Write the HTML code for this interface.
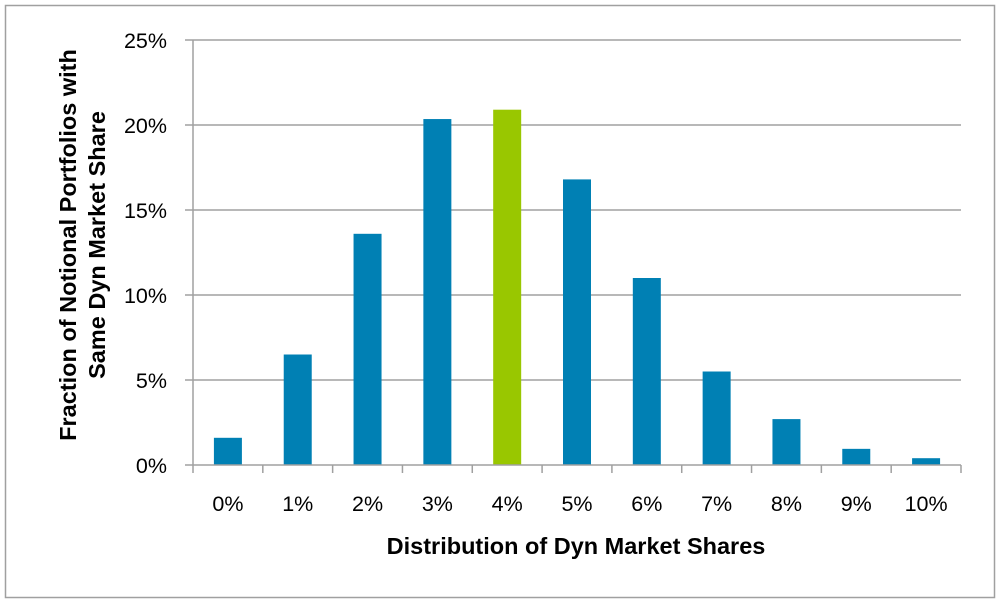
<!DOCTYPE html>
<html><head><meta charset="utf-8"><style>
html,body{margin:0;padding:0;background:#fff;width:1000px;height:603px;overflow:hidden}
svg{display:block}
text{font-family:"Liberation Sans",sans-serif;fill:#000}
</style></head><body>
<svg id="chart" width="1000" height="603">
<rect x="5.5" y="5.5" width="989" height="592" fill="#fff" stroke="#a0a0a0" stroke-width="1.5"/>
<g id="grid"></g><g id="bars"></g><g id="axes"></g>
<text x="576" y="554" text-anchor="middle" font-size="23.5" font-weight="bold">Distribution of Dyn Market Shares</text>
<g transform="translate(0,245) rotate(-90)">
<text x="0" y="76" text-anchor="middle" font-size="23.5" font-weight="bold">Fraction of Notional Portfolios with</text>
<text x="0" y="105" text-anchor="middle" font-size="23.5" font-weight="bold">Same Dyn Market Share</text>
</g>
</svg>
<script>
const categories=["0%","1%","2%","3%","4%","5%","6%","7%","8%","9%","10%"];
const values=[1.6,6.5,13.6,20.35,20.9,16.8,11.0,5.5,2.7,0.95,0.4];
const highlight=[false,false,false,false,true,false,false,false,false,false,false];
const yTicks=[0,5,10,15,20,25];
const yTickLabels=["0%","5%","10%","15%","20%","25%"];
const NS="http://www.w3.org/2000/svg";
const X0=193,X1=961,Y0=465,Y1=40,YMAX=25;
const band=(X1-X0)/categories.length;
const y=v=>Y0-(v/YMAX)*(Y0-Y1);
const x=i=>X0+band*i+band/2;
function mk(t,a,p){const e=document.createElementNS(NS,t);for(const k in a)e.setAttribute(k,a[k]);p.appendChild(e);return e;}
const grid=document.getElementById('grid'),bars=document.getElementById('bars'),axes=document.getElementById('axes');
yTicks.forEach((t,i)=>{
  if(t>0){const g=mk('line',{x1:X0,x2:X1,y1:y(t),y2:y(t),stroke:'#a0a0a0','stroke-width':1.5},grid);
  
  }
  const tk=mk('line',{x1:X0-8,x2:X0,y1:y(t),y2:y(t),stroke:'#a0a0a0','stroke-width':1.5},axes);
  
  
  const l=mk('text',{x:167,y:y(t)+8,'text-anchor':'end','font-size':21.5},axes);
  l.textContent=yTickLabels[i];
  
  
});
values.forEach((v,i)=>{
  const b=mk('rect',{x:x(i)-14,y:y(v),width:28,height:Y0-y(v),fill:highlight[i]?'#99c700':'#0080b4'},bars);
  
  
  const l=mk('text',{x:x(i),y:511,'text-anchor':'middle','font-size':21.5},axes);
  l.textContent=categories[i];
  
  
});
for(let i=0;i<=categories.length;i++){
  const t=mk('line',{x1:X0+band*i,x2:X0+band*i,y1:Y0,y2:Y0+8,stroke:'#a0a0a0','stroke-width':1.5},axes);
  
  
}
const ya=mk('line',{x1:X0,x2:X0,y1:Y1,y2:Y0,stroke:'#a0a0a0','stroke-width':1.5},axes);


const xa=mk('line',{x1:X0,x2:X1,y1:Y0,y2:Y0,stroke:'#a0a0a0','stroke-width':1.5},axes);


</script>
</body></html>
